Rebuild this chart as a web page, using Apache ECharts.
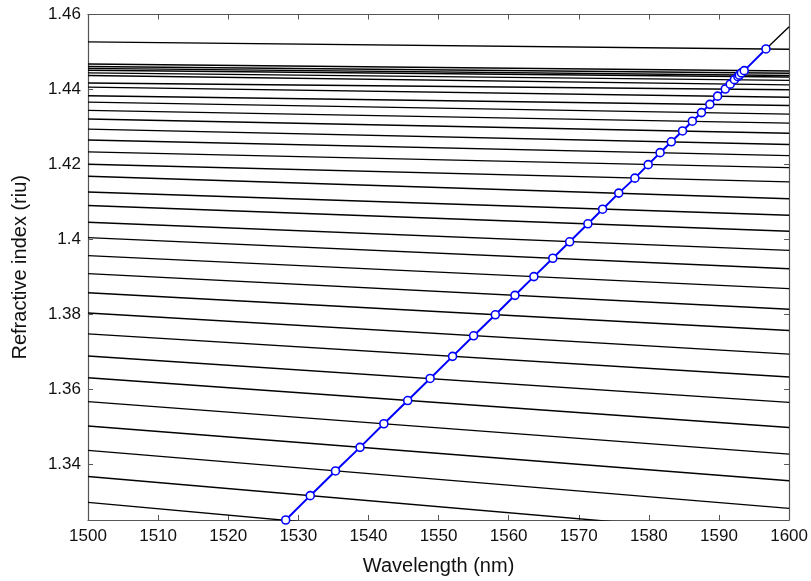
<!DOCTYPE html>
<html>
<head>
<meta charset="utf-8">
<script src="https://cdn.jsdelivr.net/npm/echarts@6/dist/echarts.min.js"></script>
<style>
html,body{margin:0;padding:0;background:#fff;}
#chart{width:811px;height:581px;}
</style>
</head>
<body>
<div id="chart"></div>
<script>
// x range of the black (mode) lines
var lineXStart = 1500;
var lineXEnd = 1600;
// refractive index of each black line at 1500 nm and at 1600 nm
var lineLeft = [1.4527,1.4468,1.4461,1.4456,1.4451,1.4444,1.4437,1.4417,1.4406,1.4383,1.4366,1.4344,1.4321,1.4294,1.4265,1.4233,1.4200,1.4168,1.4126,1.4090,1.4045,1.4004,1.3956,1.3908,1.3857,1.3803,1.3747,1.3688,1.3630,1.3566,1.3501,1.3436,1.3366,1.3297];
var lineRight = [1.4507,1.4449,1.4443,1.4437,1.4433,1.4424,1.4412,1.4399,1.4379,1.4357,1.4334,1.4310,1.4283,1.4253,1.4223,1.4191,1.4153,1.4108,1.4064,1.4021,1.3970,1.3921,1.3868,1.3813,1.3756,1.3693,1.3632,1.3564,1.3497,1.3426,1.3355,1.3281,1.3205,1.3127];
// blue resonance points
var blueX = [1528.2,1531.7,1535.3,1538.8,1542.2,1545.6,1548.8,1552.0,1555.0,1558.1,1560.9,1563.6,1566.3,1568.7,1571.3,1573.4,1575.7,1578.0,1579.9,1581.6,1583.2,1584.8,1586.2,1587.5,1588.7,1589.8,1590.9,1591.6,1592.2,1592.7,1592.9,1593.2,1593.6,1596.7];
var blueY = [1.3250,1.3315,1.3381,1.3444,1.3507,1.3569,1.3628,1.3687,1.3742,1.3798,1.3850,1.3900,1.3949,1.3993,1.4041,1.4080,1.4123,1.4163,1.4199,1.4231,1.4260,1.4289,1.4315,1.4338,1.4360,1.4382,1.4401,1.4414,1.4426,1.4434,1.4438,1.4444,1.4450,1.4508];
// black continuation beyond the last point
var tailX = [1596.7,1600];
var tailY = [1.4508,1.4567];
// tick labels
var xTicks = [1500,1510,1520,1530,1540,1550,1560,1570,1580,1590,1600];
var yTicks = [1.34,1.36,1.38,1.40,1.42,1.44,1.46];

var FONT = '"Liberation Sans", Arial, Helvetica, sans-serif';
var frameColor = '#555';
var series = [];
for (var i = 0; i < lineLeft.length; i++) {
  series.push({
    type: 'line', symbol: 'none', clip: true, silent: true,
    data: [[lineXStart, lineLeft[i]], [lineXEnd, lineRight[i]]],
    lineStyle: {color: '#000', width: 1.4}, z: 2
  });
}
series.push({
  type: 'line', symbol: 'none', clip: true,
  data: tailX.map(function (x, k) { return [x, tailY[k]]; }),
  lineStyle: {color: '#000', width: 1.4}, z: 2
});
series.push({
  type: 'line', clip: false,
  data: blueX.map(function (x, k) { return [x, blueY[k]]; }),
  symbol: 'circle', symbolSize: 8, showSymbol: true,
  lineStyle: {color: '#0000ff', width: 2},
  itemStyle: {color: '#ffffff', borderColor: '#0000ff', borderWidth: 1.6},
  z: 5
});

var chart = echarts.init(document.getElementById('chart'), null, {renderer: 'canvas'});
chart.setOption({
  animation: false,
  backgroundColor: '#fff',
  grid: {left: 88, right: 21, top: 14.5, bottom: 60.7, containLabel: false},
  xAxis: [{
    type: 'value', min: 1500, max: 1600, interval: 10, position: 'bottom',
    name: 'Wavelength (nm)', nameLocation: 'middle', nameGap: 36,
    nameTextStyle: {fontFamily: FONT, fontSize: 20, color: '#111'},
    axisLine: {show: true, lineStyle: {color: frameColor, width: 1.2}},
    axisTick: {show: true, inside: true, length: 5, lineStyle: {color: frameColor}},
    axisLabel: {show: true, fontFamily: FONT, fontSize: 17, color: '#111', margin: 8,
      formatter: function (v) { return String(v); }},
    splitLine: {show: false}
  }, {
    type: 'value', min: 1500, max: 1600, interval: 10, position: 'top',
    axisLine: {show: true, lineStyle: {color: frameColor, width: 1.2}},
    axisTick: {show: true, inside: true, length: 5, lineStyle: {color: frameColor}},
    axisLabel: {show: false}, splitLine: {show: false}
  }],
  yAxis: [{
    type: 'value', min: 1.325, max: 1.46, position: 'left',
    name: 'Refractive index (riu)', nameLocation: 'middle', nameGap: 58, nameRotate: 90,
    nameTextStyle: {fontFamily: FONT, fontSize: 20, color: '#111'},
    axisLine: {show: true, lineStyle: {color: frameColor, width: 1.2}},
    axisTick: {show: true, inside: true, length: 5, customValues: yTicks, lineStyle: {color: frameColor}},
    axisLabel: {show: true, fontFamily: FONT, fontSize: 17, color: '#111', margin: 7,
      customValues: yTicks,
      formatter: function (v) { return String(+(+v).toFixed(2)); }},
    splitLine: {show: false}
  }, {
    type: 'value', min: 1.325, max: 1.46, position: 'right',
    axisLine: {show: true, lineStyle: {color: frameColor, width: 1.2}},
    axisTick: {show: true, inside: true, length: 5, customValues: yTicks, lineStyle: {color: frameColor}},
    axisLabel: {show: false}, splitLine: {show: false}
  }],
  series: series
});
</script>
</body>
</html>
